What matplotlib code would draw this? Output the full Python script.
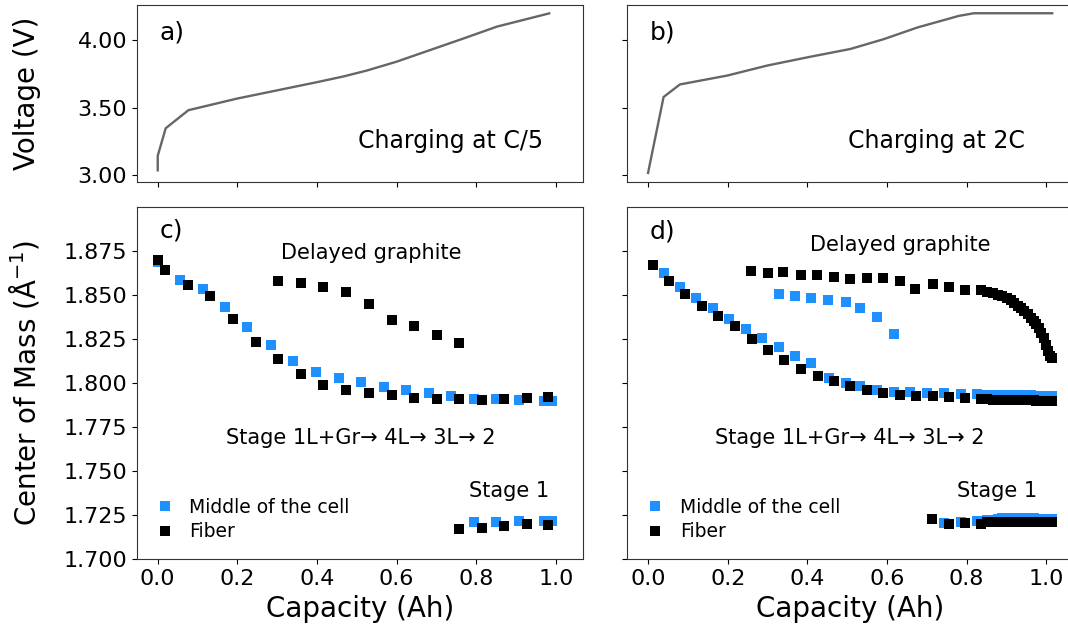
import numpy as np
import matplotlib
matplotlib.use("Agg")
from matplotlib import pyplot as plt

# --- voltage curves (capacity in Ah, voltage in V) ---
cap_c5 = [0.0, 0.0, 0.020, 0.077, 0.199, 0.400, 0.466, 0.525, 0.600, 0.684, 0.768, 0.852, 0.983]
volt_c5 = [3.034, 3.142, 3.346, 3.480, 3.566, 3.688, 3.730, 3.774, 3.840, 3.926, 4.012, 4.100, 4.198]

cap_2c = [0.0, 0.039, 0.080, 0.199, 0.299, 0.400, 0.508, 0.592, 0.676, 0.780, 0.818, 1.015]
volt_2c = [3.015, 3.578, 3.671, 3.737, 3.811, 3.872, 3.934, 4.007, 4.093, 4.179, 4.199, 4.199]

# --- C/5: center of mass of the graphite peaks ---
mid_c_x = [0.0, 0.056, 0.113, 0.170, 0.225, 0.284, 0.340, 0.397, 0.454, 0.510,
           0.567, 0.624, 0.681, 0.737, 0.793, 0.850, 0.906, 0.969, 0.990]
mid_c_y = [1.8685, 1.8586, 1.8533, 1.8435, 1.8320, 1.8214, 1.8123, 1.8065, 1.8029, 1.8004,
           1.7978, 1.7959, 1.7944, 1.7925, 1.7912, 1.7910, 1.7902, 1.7898, 1.7896]
mid_c_s1_x = [0.793, 0.850, 0.906, 0.969, 0.990]
mid_c_s1_y = [1.7210, 1.7213, 1.7219, 1.7217, 1.7216]

fib_c_x = [0.0, 0.018, 0.075, 0.132, 0.190, 0.247, 0.303, 0.360, 0.416, 0.474,
           0.530, 0.588, 0.644, 0.701, 0.757, 0.814, 0.870, 0.927, 0.981]
fib_c_y = [1.8700, 1.8643, 1.8558, 1.8492, 1.8365, 1.8233, 1.8136, 1.8051, 1.7991, 1.7963,
           1.7944, 1.7932, 1.7917, 1.7912, 1.7908, 1.7906, 1.7908, 1.7917, 1.7921]
fib_c_del_x = [0.303, 0.360, 0.416, 0.474, 0.530, 0.588, 0.644, 0.701, 0.757]
fib_c_del_y = [1.8577, 1.8571, 1.8543, 1.8516, 1.8450, 1.8359, 1.8322, 1.8274, 1.8227]
fib_c_s1_x = [0.757, 0.814, 0.870, 0.927, 0.981]
fib_c_s1_y = [1.7172, 1.7179, 1.7190, 1.7198, 1.7195]

# --- 2C ---
# constant-voltage tail, points bunch up towards full charge
cv_x = [0.852, 0.867, 0.879, 0.890, 0.901, 0.911, 0.920, 0.929, 0.937, 0.945, 0.953,
        0.961, 0.968, 0.975, 0.982, 0.988, 0.994, 1.000, 1.005, 1.010, 1.014]

mid_d_x = [0.039, 0.080, 0.121, 0.163, 0.204, 0.246, 0.287, 0.328, 0.369, 0.408,
           0.454, 0.496, 0.533, 0.575, 0.617, 0.659, 0.701, 0.743, 0.785, 0.827] + cv_x
mid_d_y = [1.8624, 1.8545, 1.8482, 1.8426, 1.8365, 1.8308, 1.8255, 1.8204, 1.8155, 1.8114,
           1.8029, 1.8000, 1.7981, 1.7959, 1.7951, 1.7947, 1.7943, 1.7943, 1.7940, 1.7938,
           1.7935, 1.7935, 1.7934, 1.7934, 1.7933, 1.7933, 1.7932, 1.7932, 1.7931, 1.7931, 1.7930,
           1.7930, 1.7929, 1.7929, 1.7928, 1.7928, 1.7927, 1.7927, 1.7926, 1.7926, 1.7925]
mid_d_del_x = [0.328, 0.369, 0.410, 0.452, 0.496, 0.533, 0.575, 0.617]
mid_d_del_y = [1.8505, 1.8492, 1.8482, 1.8473, 1.8458, 1.8429, 1.8375, 1.8278]
mid_d_s1_x = [0.743, 0.785, 0.827] + cv_x
mid_d_s1_y = [1.7205, 1.7212, 1.7218,
              1.7223, 1.7226, 1.7229, 1.7232, 1.7235, 1.7236, 1.7237, 1.7237, 1.7236, 1.7235, 1.7234,
              1.7233, 1.7232, 1.7231, 1.7230, 1.7230, 1.7229, 1.7228, 1.7228, 1.7227, 1.7227]

fib_d_x = [0.012, 0.052, 0.094, 0.135, 0.176, 0.219, 0.260, 0.301, 0.341, 0.383,
           0.426, 0.467, 0.507, 0.549, 0.590, 0.632, 0.674, 0.716, 0.755, 0.797, 0.835] + cv_x
fib_d_y = [1.8671, 1.8577, 1.8507, 1.8439, 1.8382, 1.8322, 1.8250, 1.8186, 1.8129, 1.8080,
           1.8038, 1.8010, 1.7985, 1.7963, 1.7944, 1.7934, 1.7929, 1.7925, 1.7921, 1.7916, 1.7910,
           1.7908, 1.7907, 1.7907, 1.7906, 1.7906, 1.7905, 1.7905, 1.7904, 1.7904, 1.7903, 1.7903,
           1.7902, 1.7902, 1.7901, 1.7901, 1.7900, 1.7900, 1.7899, 1.7899, 1.7898, 1.7898]
fib_d_del_x = [0.259, 0.302, 0.339, 0.383, 0.425, 0.467, 0.507, 0.549, 0.590, 0.632,
               0.671, 0.716, 0.755, 0.795, 0.835] + cv_x
fib_d_del_y = [1.8639, 1.8628, 1.8632, 1.8615, 1.8615, 1.8601, 1.8594, 1.8596, 1.8596, 1.8578,
               1.8537, 1.8561, 1.8544, 1.8531, 1.8527,
               1.8518, 1.8511, 1.8502, 1.8492, 1.8483, 1.8473, 1.8456, 1.8440, 1.8425, 1.8410, 1.8392,
               1.8369, 1.8352, 1.8333, 1.8312, 1.8285, 1.8255, 1.8218, 1.8185, 1.8155, 1.8140]
fib_d_s1_x = [0.714, 0.755, 0.797, 0.835] + cv_x
fib_d_s1_y = [1.7227, 1.7198, 1.7207, 1.7199,
              1.7212, 1.7212, 1.7212, 1.7212, 1.7211, 1.7211, 1.7211, 1.7211, 1.7211, 1.7211, 1.7211,
              1.7210, 1.7210, 1.7210, 1.7210, 1.7210, 1.7210, 1.7210, 1.7210, 1.7210, 1.7210]

blue = '#1e90ff'
ms = 7.2

fig = plt.figure(figsize=(10.68, 6.44), dpi=100)
ax_a = fig.add_axes([0.1283, 0.7179, 0.4176, 0.2743])
ax_b = fig.add_axes([0.5874, 0.7179, 0.4176, 0.2743])
ax_c = fig.add_axes([0.1283, 0.1315, 0.4176, 0.5471])
ax_d = fig.add_axes([0.5874, 0.1315, 0.4176, 0.5471])

for ax in (ax_a, ax_b, ax_c, ax_d):
    ax.set_xlim(-0.052, 1.068)
    ax.set_xticks([0.0, 0.2, 0.4, 0.6, 0.8, 1.0])
    ax.tick_params(labelsize=16)
    for sp in ax.spines.values():
        sp.set_color('#333333')
for ax in (ax_a, ax_b):
    ax.set_ylim(2.95, 4.26)
    ax.set_yticks([3.0, 3.5, 4.0])
    ax.set_xticklabels([])
for ax in (ax_c, ax_d):
    ax.set_ylim(1.700, 1.900)
    ax.set_yticks(np.arange(1.700, 1.876, 0.025))
    ax.set_xlabel('Capacity (Ah)', fontsize=20)

ax_a.yaxis.set_major_formatter(matplotlib.ticker.FormatStrFormatter('%.2f'))
ax_c.yaxis.set_major_formatter(matplotlib.ticker.FormatStrFormatter('%.3f'))
ax_b.set_yticklabels([])
ax_d.set_yticklabels([])

# top row: charging curves
ax_a.plot(cap_c5, volt_c5, color='#666666', lw=1.7)
ax_b.plot(cap_2c, volt_2c, color='#666666', lw=1.7)
ax_a.text(0.7357, 3.253, 'Charging at C/5', fontsize=17, ha='center', va='center')
ax_b.text(0.724, 3.253, 'Charging at 2C', fontsize=17, ha='center', va='center')

ax_a.set_ylabel('Voltage (V)', fontsize=20)
ax_c.set_ylabel(r'Center of Mass ($\mathrm{\AA}^{-1}$)', fontsize=20)
ax_a.yaxis.set_label_coords(-0.215, 0.5)
ax_c.yaxis.set_label_coords(-0.215, 0.5)

# bottom row: peak positions
kw = dict(marker='s', ls='none', ms=ms, mew=0)
ax_c.plot(mid_c_x, mid_c_y, color=blue, label='Middle of the cell', **kw)
ax_c.plot(mid_c_s1_x, mid_c_s1_y, color=blue, **kw)
ax_c.plot(fib_c_x, fib_c_y, color='k', label='Fiber', **kw)
ax_c.plot(fib_c_del_x, fib_c_del_y, color='k', **kw)
ax_c.plot(fib_c_s1_x, fib_c_s1_y, color='k', **kw)

ax_d.plot(mid_d_x, mid_d_y, color=blue, label='Middle of the cell', **kw)
ax_d.plot(mid_d_del_x, mid_d_del_y, color=blue, **kw)
ax_d.plot(mid_d_s1_x, mid_d_s1_y, color=blue, **kw)
ax_d.plot(fib_d_x, fib_d_y, color='k', label='Fiber', **kw)
ax_d.plot(fib_d_del_x, fib_d_del_y, color='k', **kw)
ax_d.plot(fib_d_s1_x, fib_d_s1_y, color='k', **kw)

for ax, dx, dy in ((ax_c, 0.535, 1.874), (ax_d, 0.633, 1.8785)):
    ax.text(dx, dy, 'Delayed graphite', fontsize=15, ha='center', va='center')
for ax, dx in ((ax_c, 0.5095), (ax_d, 0.507)):
    ax.text(dx, 1.769, 'Stage 1L+Gr\u2192 4L\u2192 3L\u2192 2', fontsize=15, ha='center', va='center')
for ax, dx in ((ax_c, 0.883), (ax_d, 0.8775)):
    ax.text(dx, 1.7385, 'Stage 1', fontsize=15, ha='center', va='center')
    ax.legend(loc='lower left', bbox_to_anchor=(0.025, 0.03), borderaxespad=0,
              frameon=False, fontsize=13.5, handlelength=1.0, handletextpad=0.8,
              labelspacing=0.3, markerscale=1.0)

for ax, lab, ly in ((ax_a, 'a)', 0.844), (ax_b, 'b)', 0.844), (ax_c, 'c)', 0.932), (ax_d, 'd)', 0.93)):
    ax.text(0.078, ly, lab, fontsize=18, ha='center', va='center', transform=ax.transAxes)

fig.savefig('out.png', dpi=100)
